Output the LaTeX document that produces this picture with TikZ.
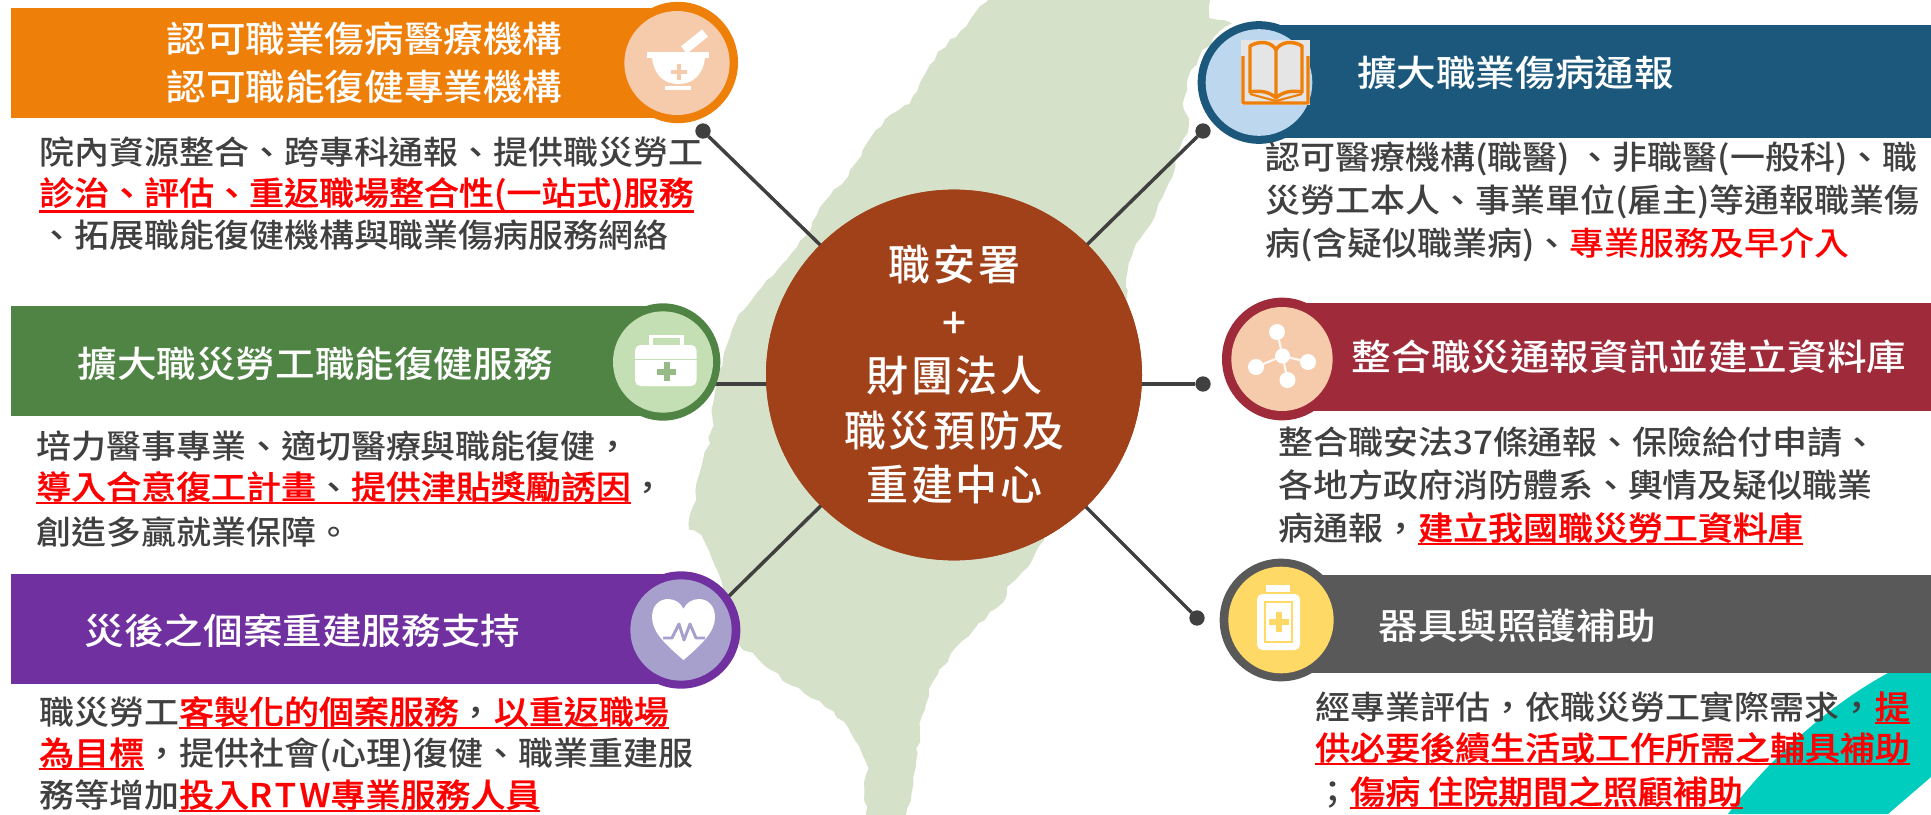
\documentclass[tikz,border=0pt]{standalone}
\usepackage{fontspec}
\usetikzlibrary{shapes.geometric,decorations.pathmorphing}
\setmainfont[FakeStretch=1.075,BoldFont={Noto Sans CJK TC Medium},BoldFeatures={FakeBold=0.6}]{Noto Sans CJK TC Medium}
\newfontfamily\headfont[FakeStretch=1.1]{Noto Sans CJK TC Medium}
\newfontfamily\midfont[LetterSpace=6]{Noto Sans CJK TC Medium}
\definecolor{cgray}{HTML}{404040}
\definecolor{corange}{HTML}{EE7F09}
\definecolor{iorange}{HTML}{F6CBAC}
\definecolor{cgreen}{HTML}{508444}
\definecolor{igreen}{HTML}{C5DFB4}
\definecolor{cpurple}{HTML}{7030A0}
\definecolor{ipurple}{HTML}{A79FCC}
\definecolor{cblue}{HTML}{1B587C}
\definecolor{iblue}{HTML}{BDD7EE}
\definecolor{cwine}{HTML}{9E2A3A}
\definecolor{cdark}{HTML}{595959}
\definecolor{iyellow}{HTML}{FFD966}
\definecolor{cbrown}{HTML}{A0411A}
\definecolor{cmap}{HTML}{D6E1C9}
\definecolor{cteal}{HTML}{00CDBE}
\newcommand{\ru}[2][3.9pt]{\textcolor{red}{\bfseries\setbox0\hbox{#2}\rlap{\rule[-#1]{\wd0}{2pt}}\box0}}
\newcommand{\rd}[1]{\textcolor{red}{#1}}
\newcommand{\gu}[2][3.9pt]{\setbox0\hbox{#2}\rlap{\textcolor{red}{\rule[-#1]{\wd0}{2pt}}}\box0}
\tikzset{
  ring/.style={ellipse,inner sep=0pt,outer sep=0pt,fill=#1},
  head/.style={text=white,font=\headfont\fontsize{27}{27}\selectfont,anchor=base,inner sep=0pt},
  body/.style={text=cgray,font=\fontsize{24.4}{24.4}\selectfont,anchor=base west,inner sep=0pt},
  mid/.style={text=white,font=\midfont\fontsize{31.5}{31.5}\selectfont,anchor=base,inner sep=0pt},
  conn/.style={draw=cgray,line width=2.6pt},
  dotn/.style={ellipse,fill=cgray,inner sep=0pt,outer sep=0pt,minimum width=11.5pt,minimum height=11.5pt},
}
\begin{document}
\begin{tikzpicture}[x=0.75pt,y=-0.75pt]
\useasboundingbox (0,0) rectangle (1931,814);
% teal corner
\fill[cteal] (1888,673) -- (1931,673) -- (1931,777) -- (1888,814) -- (1728,814)
  .. controls (1760,770) and (1820,710) .. (1888,673) -- cycle;
% island
\begin{scope}[x=0.3061pt,y=-0.3894pt,xshift=480pt]
\pgfmathsetseed{7}
\fill[cmap,decoration={random steps,segment length=6pt,amplitude=1.4pt},decorate]
 (880,-30) -- (1390,-30) -- (1395,35) -- (1450,45) -- (1420,60) -- (1370,110) -- (1340,160)
 -- (1330,200) -- (1345,240) -- (1320,290) -- (1305,340) -- (1280,380) -- (1260,420)
 -- (1210,480) -- (1195,520) -- (1195,560) -- (1100,800) -- (990,1040) -- (960,1080)
 -- (900,1130) -- (890,1160) -- (830,1200) -- (770,1250) -- (720,1310) -- (690,1380)
 -- (680,1450) -- (670,1510) -- (640,1600) -- (560,1600) -- (550,1520) -- (560,1480)
 -- (530,1430) -- (500,1390) -- (440,1350) -- (370,1320) -- (290,1270) -- (240,1240)
 -- (200,1120) -- (190,1100) -- (150,1030) -- (120,1020) -- (130,975) -- (150,900)
 -- (180,820) -- (175,790) -- (190,720) -- (220,650) -- (250,600) -- (310,540)
 -- (360,500) -- (420,440) -- (440,400) -- (510,340) -- (545,290) -- (600,230)
 -- (660,200) -- (700,140) -- (730,100) -- (800,50) -- cycle;
\end{scope}
% named points
\node[ring=cbrown,minimum width=282pt,minimum height=278pt] (c) at (954,375) {};
\node[dotn] (d1) at (703,131) {};
\node[dotn] (d4) at (1203,131) {};
\node[dotn] (d5) at (1203,384) {};
\node[dotn] (d6) at (1197,618) {};
\coordinate (g2) at (712,384);
\coordinate (g3) at (728,597);
% connectors
\draw[conn] (c.center) -- (d1);
\draw[conn] (c.center) -- (d4);
\draw[conn] (d5 -| c.center) -- (d5);
\draw[conn] (c.center) -- (d6);
\draw[conn] (g2 -| c.center) -- (g2);
\draw[conn] (c.center) -- (g3);
\node[ring=cbrown,minimum width=282pt,minimum height=278pt] (cc) at (954,375) {};
% banners
\fill[corange] (11,8) rectangle (678,118);
\fill[cgreen] (11,306) rectangle (663,416);
\fill[cpurple] (11,574) rectangle (681,684);
\fill[cblue] (1259,25) rectangle (1931,138);
\fill[cwine] (1282,303) rectangle (1931,411);
\fill[cdark] (1281,575) rectangle (1931,673);
% rings
\node[ring=corange,minimum width=90pt,minimum height=91pt] (r1) at (678,62.5) {};
\node[ring=iorange,minimum width=79pt,minimum height=78pt] (i1) at (677,63) {};
\node[ring=cgreen,minimum width=86pt,minimum height=88pt] (r2) at (663,362) {};
\node[ring=igreen,minimum width=75pt,minimum height=76pt] (i2) at (663,362) {};
\node[ring=cpurple,minimum width=89pt,minimum height=88pt] (r3) at (681,630) {};
\node[ring=ipurple,minimum width=76pt,minimum height=76pt] (i3) at (681,630) {};
\node[ring=cblue,minimum width=92pt,minimum height=92pt] (r4) at (1259,82.5) {};
\node[ring=iblue,minimum width=80pt,minimum height=80pt] (i4) at (1259,82.5) {};
\node[ring=cwine,minimum width=90pt,minimum height=92pt] (r5) at (1282,359) {};
\node[ring=iorange,minimum width=76pt,minimum height=78pt] (i5) at (1282,359) {};
\node[ring=cdark,minimum width=92pt,minimum height=92pt] (r6) at (1281,620) {};
\node[ring=iyellow,minimum width=79pt,minimum height=80pt] (i6) at (1281,620) {};
% mortar icon
\fill[white] (647,52) rectangle (709,57.5);
\fill[white] (652,57.5) .. controls (654,76) and (665,84) .. (678,84) .. controls (692,84) and (703,76) .. (705,57.5) -- cycle;
\fill[white] (665,86) rectangle (691,90);
\draw[white,line width=7pt] (684,50) -- (705,33);
\fill[iorange] (677,64) rectangle (681,80);
\fill[iorange] (671,70) rectangle (687,74);
% kit icon
\draw[white,line width=2.4pt] (651,346) -- (651,336.5) -- (682,336.5) -- (682,346);
\fill[white,rounded corners=4pt] (635,345) rectangle (696.5,386);
\draw[igreen,line width=0.6pt] (635,359) -- (696.5,359);
\fill[igreen!60!cgreen] (664,362) rectangle (669.5,381);
\fill[igreen!60!cgreen] (657,369) rectangle (676,374.5);
% heart icon
\fill[white] (683.5,660) .. controls (665,644) and (652,632) .. (652,617) .. controls (652,605) and (660,599) .. (668,599)
  .. controls (675,599) and (681,603) .. (683.5,609) .. controls (686,603) and (692,599) .. (699,599)
  .. controls (707,599) and (715,605) .. (715,617) .. controls (715,632) and (702,644) .. (683.5,660) -- cycle;
\draw[ipurple,line width=2.2pt,line join=round] (663,638) -- (672,638) -- (679,624) -- (684,640) -- (690,624) -- (696,638) -- (705,638);
% book icon
\fill[black!10] (1241,40) rectangle (1310,105);
\draw[corange,line width=2.6pt,line join=round]
  (1243,56) -- (1243,103) -- (1308,103) -- (1308,56)
  (1276,98) .. controls (1270,92) and (1260,90) .. (1250,92) -- (1250,46) .. controls (1260,40) and (1272,42) .. (1276,50) -- cycle
  (1276,98) .. controls (1282,92) and (1292,90) .. (1302,92) -- (1302,46) .. controls (1292,40) and (1280,42) .. (1276,50);
\draw[corange,line width=1.6pt] (1250,94) -- (1276,101) -- (1302,94);
% network icon
\draw[white!85!iorange,line width=1.6pt] (1282.6,356) -- (1277,332) (1282.6,356) -- (1308,362) (1282.6,356) -- (1256,367) (1282.6,356) -- (1287.5,380);
\fill[white] (1282.6,356) circle[radius=7.5];
\fill[white] (1277,332) circle[radius=8];
\fill[white] (1308,362) circle[radius=8];
\fill[white] (1256,367) circle[radius=8];
\fill[white] (1287.5,380) circle[radius=8];
% bottle icon
\fill[white] (1266,585) rectangle (1290,592);
\fill[white,rounded corners=4pt] (1257,594) rectangle (1300,650);
\draw[iyellow,line width=1.2pt] (1265,602) rectangle (1292,642);
\fill[iyellow] (1276,612) rectangle (1282,632);
\fill[iyellow] (1269,619) rectangle (1289,625);
% headings
\node[head] (h1a) at (364.5,52) {認可職業傷病醫療機構};
\node[head] (h1b) at (364.5,100) {認可職能復健專業機構};
\node[head] (h2) at (315,377) {擴大職災勞工職能復健服務};
\node[head] (h3) at (302.5,644) {災後之個案重建服務支持};
\node[head] (h4) at (1515.5,86) {擴大職業傷病通報};
\node[head] (h5) at (1629,370) {整合職災通報資訊並建立資料庫};
\node[head] (h6) at (1517,639) {器具與照護補助};
% centre text
\node[mid] (m1) at (954.5,280) {職安署};
\node[mid] (m2) at (954.5,338) {+};
\node[mid] (m3) at (954.5,391) {財團法人};
\node[mid] (m4) at (954.5,446) {職災預防及};
\node[mid] (m5) at (954.5,500) {重建中心};
% body left
\node[body] (t11) at (39,164) {院內資源整合、跨專科通報、提供職災勞工};
\node[body] (t12) at (39,205) {\ru[6pt]{診治、評估、重返職場整合性(一站式)服務}};
\node[body] (t13) at (39,247) {、拓展職能復健機構與職業傷病服務網絡};
\node[body] (t21) at (36,458) {培力醫事專業、適切醫療與職能復健，};
\node[body] (t22) at (36,499) {\ru{導入合意復工計畫}\gu{、}\ru{提供津貼獎勵誘因}，};
\node[body] (t23) at (36,544) {創造多贏就業保障。};
\node[body] (t31) at (39,724) {職災勞工\ru{客製化的個案服務}\gu{，}\ru{以重返職場}};
\node[body] (t32) at (39,765) {\ru{為目標}，提供社會(心理)復健、職業重建服};
\node[body] (t33) at (39,807) {務等增加\ru{投入{\addfontfeature{LetterSpace=10}RTW}專業服務人員}};
% body right
\node[body] (t41) at (1265,169) {認可醫療機構(職醫) 、非職醫(一般科)、職};
\node[body] (t42) at (1265,212) {災勞工本人、事業單位(雇主)等通報職業傷};
\node[body] (t43) at (1265,255) {病(含疑似職業病)、\rd{專業服務及早介入}};
\node[body] (t51) at (1278,454) {整合職安法37條通報、保險給付申請、};
\node[body] (t52) at (1278,497) {各地方政府消防體系、輿情及疑似職業};
\node[body] (t53) at (1278,540) {病通報，\ru{建立我國職災勞工資料庫}};
\node[body] (t61) at (1315,719) {經專業評估，依職災勞工實際需求，\ru{提}};
\node[body] (t62) at (1315,760) {\ru{供必要後續生活或工作所需之輔具補助}};
\node[body] (t63) at (1315,804) {；\ru{傷病 住院期間之照顧補助}};
\end{tikzpicture}
\end{document}
